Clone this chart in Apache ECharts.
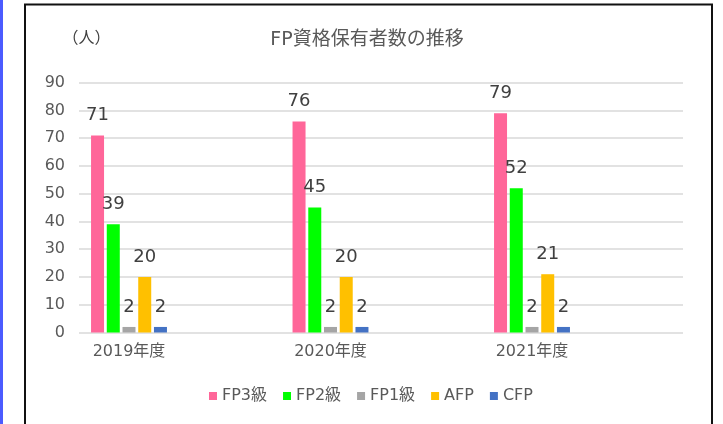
<!DOCTYPE html>
<html>
<head>
<meta charset="utf-8">
<script src="https://cdn.jsdelivr.net/npm/echarts@6/dist/echarts.min.js"></script>
<style>
html,body{margin:0;padding:0;background:#fff;}
#c{width:723px;height:424px;}
</style>
</head>
<body>
<div id="c"></div>
<script>
const categories = ['2019年度', '2020年度', '2021年度'];
const seriesNames = ['FP3級', 'FP2級', 'FP1級', 'AFP', 'CFP'];
const fp3 = [71, 76, 79];
const fp2 = [39, 45, 52];
const fp1 = [2, 2, 2];
const afp = [20, 20, 21];
const cfp = [2, 2, 2];
const yTicks = [0, 10, 20, 30, 40, 50, 60, 70, 80, 90];
const titleText = 'FP資格保有者数の推移';
const unitText = '（人）';

const colors = ['#ff6699', '#00ff00', '#a5a5a5', '#ffc000', '#4472c4'];
const values = [fp3, fp2, fp1, afp, cfp];
const FONT = '"DejaVu Sans", "Noto Sans CJK JP", sans-serif';

const chart = echarts.init(document.getElementById('c'), null, {renderer: 'canvas'});

const gridTop = 82.7, gridBottom = 91.5;

const option = {
  backgroundColor: '#ffffff',
  animation: false,
  color: colors,
  textStyle: {fontFamily: FONT},
  grid: [
    {left: 79, right: 40, top: gridTop, bottom: gridBottom, containLabel: false},
    {left: 28.25, width: 604.5, top: gridTop, bottom: gridBottom, containLabel: false}
  ],
  xAxis: [
    {type: 'category', gridIndex: 0, data: [''], show: false},
    {
      type: 'category', gridIndex: 1, data: categories,
      axisLine: {show: false}, axisTick: {show: false},
      axisLabel: {color: '#595959', fontSize: 16, fontFamily: FONT, margin: 11}
    }
  ],
  yAxis: [
    {
      type: 'value', gridIndex: 0,
      min: yTicks[0], max: yTicks[yTicks.length - 1], interval: 10,
      axisLine: {show: false}, axisTick: {show: false},
      axisLabel: {color: '#595959', fontSize: 16, fontFamily: FONT, margin: 14},
      splitLine: {show: true, lineStyle: {color: '#d9d9d9', width: 1.6}}
    },
    {
      type: 'value', gridIndex: 1,
      min: yTicks[0], max: yTicks[yTicks.length - 1], interval: 10,
      show: false, splitLine: {show: false}
    }
  ],
  legend: {
    data: seriesNames,
    left: 209, top: 388, padding: 0,
    itemWidth: 8, itemHeight: 8, itemGap: 16,
    icon: 'rect',
    textStyle: {color: '#595959', fontSize: 16, fontFamily: FONT}
  },
  series: seriesNames.map((name, i) => ({
    name: name,
    type: 'bar',
    xAxisIndex: 1,
    yAxisIndex: 1,
    data: values[i],
    barWidth: 13,
    barGap: '21%',
    itemStyle: {color: colors[i]},
    label: {
      show: true, position: 'top', distance: 11,
      color: '#404040', fontSize: 18, fontFamily: FONT
    }
  })),
  graphic: [
    {type: 'rect', shape: {x: 0, y: 0, width: 3, height: 424}, style: {fill: '#4b5bff'}, silent: true},
    {type: 'rect', shape: {x: 25, y: 4.5, width: 687, height: 440}, style: {fill: 'none', stroke: '#111', lineWidth: 2}, silent: true},
    {type: 'text', x: 367, y: 40, style: {text: titleText, fill: '#595959', font: '19px ' + FONT, textAlign: 'center', textVerticalAlign: 'middle'}},
    {type: 'text', x: 86.5, y: 39, style: {text: unitText, fill: '#404040', font: '16px ' + FONT, textAlign: 'center', textVerticalAlign: 'middle'}}
  ]
};
chart.setOption(option);
</script>
</body>
</html>
